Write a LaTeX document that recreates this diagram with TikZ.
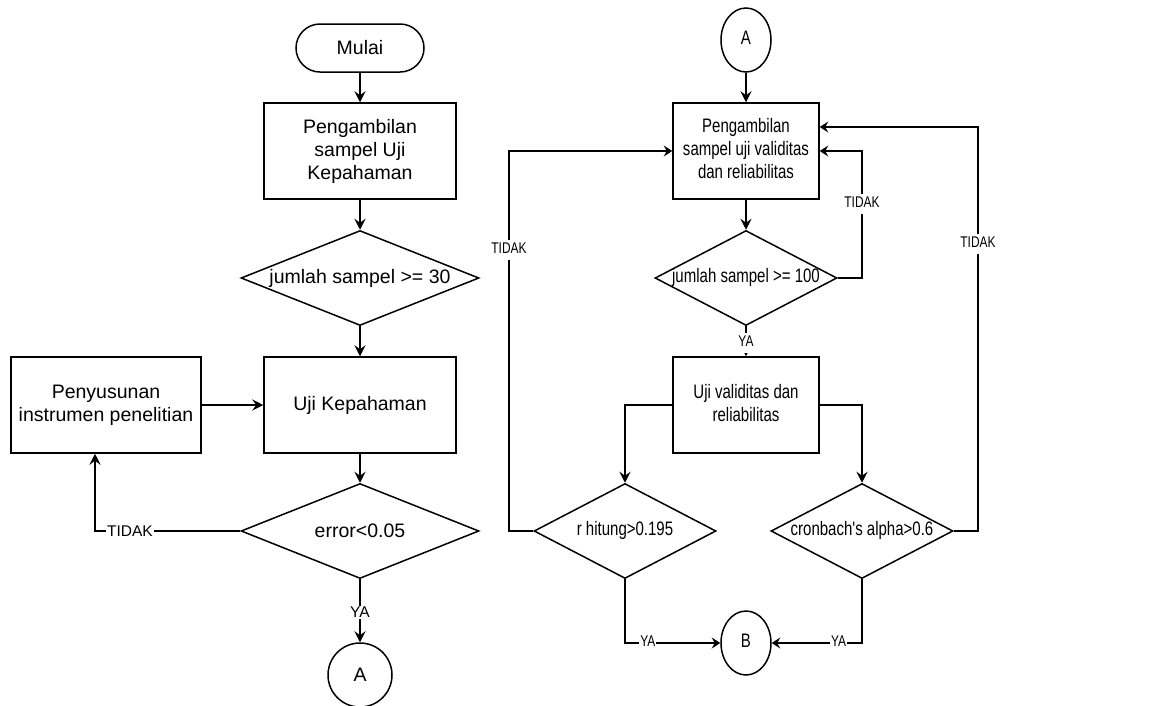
\documentclass[tikz,border=0pt]{standalone}
\usepackage{fontspec}
\setmainfont{Liberation Sans}
\usepackage{graphicx}
\usetikzlibrary{arrows.meta,shapes.geometric}
% horizontally condensed, centred block of lines (right-hand chart)
\newcommand{\nrw}[1]{\scalebox{0.77}[1]{\begin{tabular}{@{}c@{}}#1\end{tabular}}}
% zero-width text so a diamond keeps its given size
\newcommand{\zw}[1]{\makebox[0pt][c]{#1}}

\begin{document}
\begin{tikzpicture}[x=1pt,y=-1pt,
  every node/.style={font=\fontsize{19.5}{23}\selectfont},
  shapeline/.style={draw, line width=1.5pt, inner sep=0pt, align=center},
  terminal/.style={shapeline, rectangle, rounded corners=24pt, minimum width=128pt, minimum height=48pt},
  procbox/.style={shapeline, rectangle, minimum width=#1, minimum height=96pt},
  decision/.style={shapeline, diamond, minimum width=#1, minimum height=95pt},
  connector/.style={shapeline, ellipse, minimum width=#1, minimum height=64pt},
  flow/.style={line width=1.5pt, -{Stealth[length=11pt,width=11pt,inset=4pt]}},
  hflow/.style={line width=1.5pt, -{Stealth[length=8.5pt,width=11pt,inset=3pt]}},
  lbl/.style={fill=white, inner sep=1pt, font=\fontsize{15.5}{18}\selectfont},
]
\useasboundingbox (0,0) rectangle (1163,705);

% ---------- left chart ----------
\node[terminal] (mulai) at (360,48) {Mulai};
\node[procbox=192pt] (ambil1) at (360,151) {Pengambilan\\sampel Uji\\Kepahaman};
\node[decision=238pt] (jml30) at (360,278) {\zw{jumlah sampel >= 30}};
\node[procbox=192pt] (ujik) at (360,405) {Uji Kepahaman};
\node[procbox=190pt] (susun) at (106,405) {Penyusunan\\instrumen penelitian};
\node[decision=238pt] (err) at (360,531) {\zw{error<0.05}};
\node[connector=64pt] (conA) at (360,675) {A};
\coordinate (susunIn) at ([xshift=-11pt]susun.south);

\draw[flow] (mulai) -- (ambil1);
\draw[flow] (ambil1) -- (jml30);
\draw[flow] (jml30) -- (ujik);
\draw[flow] (susun) -- (ujik);
\draw[flow] (ujik) -- (err);
\draw[flow] (err.west) -- node[lbl,pos=0.76]{TIDAK} (err.west -| susunIn) -- (susunIn);
\draw[flow] (err.south) -- node[lbl,pos=0.53]{YA} (conA.north);

% ---------- right chart ----------
\node[connector=50pt] (startA) at (746,40) {\nrw{A}};
\node[procbox=146pt] (ambil2) at (746,151) {\nrw{Pengambilan\\sampel uji validitas\\dan reliabilitas}};
\node[decision=182pt] (jml100) at (746,278) {\zw{\nrw{jumlah sampel >= 100}}};
\node[procbox=146pt] (ujiv) at (746,405) {\nrw{Uji validitas dan\\reliabilitas}};
\node[decision=182pt] (rhit) at (625,531) {\zw{\nrw{r hitung>0.195}}};
\node[decision=182pt] (cron) at (862,531) {\zw{\nrw{cronbach\textquotesingle s alpha>0.6}}};
\node[connector=50pt] (endB) at (746,643) {\nrw{B}};

\coordinate (loopA) at (862,0);
\coordinate (loopB) at (509,0);
\coordinate (loopC) at (978,0);
\coordinate (ambil2Hi) at ([yshift=24pt]ambil2.east);

\draw[flow] (startA) -- (ambil2);
\draw[flow] (ambil2) -- (jml100);
\draw[hflow] (jml100.east) -- (jml100.east -| loopA)
  -- node[lbl,pos=0.58]{\nrw{TIDAK}} (ambil2.east -| loopA) -- (ambil2.east);
\draw[flow] (jml100.south) -- node[lbl,pos=0.56]{\nrw{YA}} (ujiv.north);
\draw[flow] (ujiv.west) -| (rhit.north);
\draw[flow] (ujiv.east) -| (cron.north);
\draw[hflow] (rhit.west) -- (rhit.west -| loopB)
  -- node[lbl,pos=0.74]{\nrw{TIDAK}} (ambil2.west -| loopB) -- (ambil2.west);
\draw[hflow] (cron.east) -- (cron.east -| loopC)
  -- node[lbl,pos=0.71]{\nrw{TIDAK}} (ambil2Hi -| loopC) -- (ambil2Hi);
\draw[hflow] (rhit.south) |- node[lbl,pos=0.62]{\nrw{YA}} (endB.west);
\draw[hflow] (cron.south) |- node[lbl,pos=0.63]{\nrw{YA}} (endB.east);
\end{tikzpicture}
\end{document}
